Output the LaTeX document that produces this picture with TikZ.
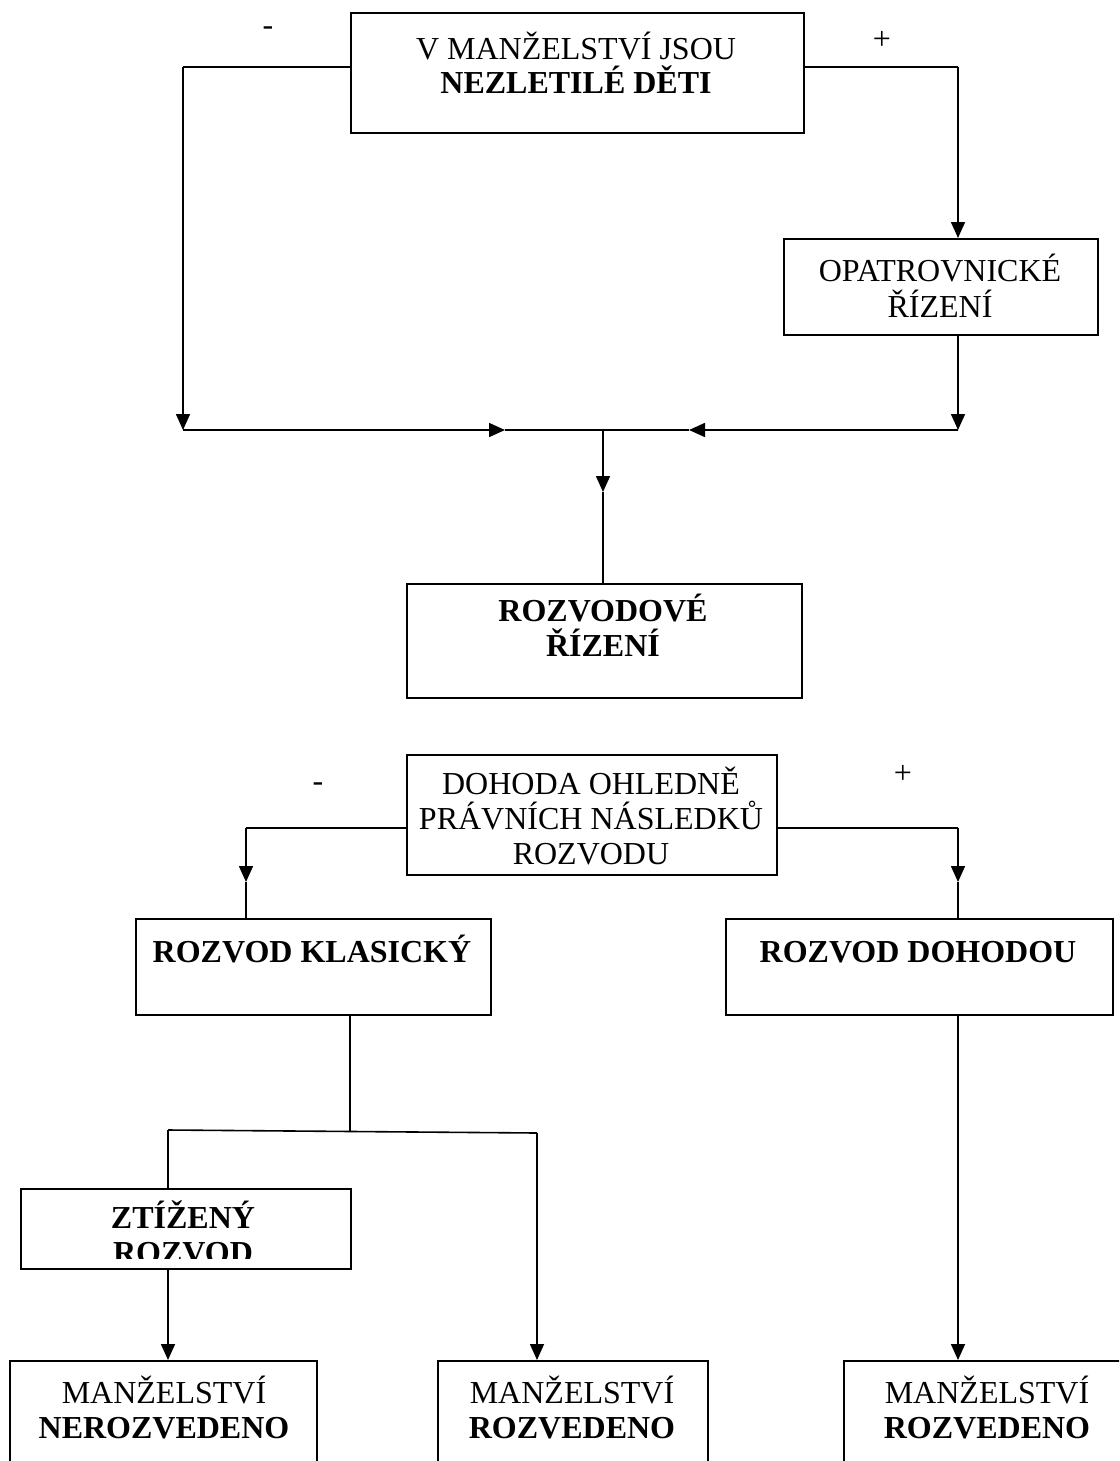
\documentclass[tikz,border=0pt]{standalone}
\usepackage{fontspec}
\setmainfont{Liberation Serif}
\usetikzlibrary{arrows.meta}
\begin{document}
\begin{tikzpicture}[x=1pt,y=-1pt,
  box/.style={draw, line width=1.6pt, anchor=north west, inner sep=0pt},
  ln/.style={line width=1.6pt},
  arr/.style={ln, -{Triangle[length=16pt,width=14pt]}},
  t/.style={anchor=base, inner sep=0pt, font=\fontsize{32}{35}\selectfont},
  tb/.style={anchor=base, inner sep=0pt, font=\fontsize{32}{35}\selectfont\bfseries}]
\useasboundingbox (0,0) rectangle (1119,1461);
\clip (0,0) rectangle (1119,1461);

% ---------- boxes ----------
\node[box, minimum width=453pt, minimum height=120pt] (b1) at (350,12) {};
\node[box, minimum width=314pt, minimum height=96pt] (op) at (783,238) {};
\node[box, minimum width=395pt, minimum height=114pt] (rz) at (406,583) {};
\node[box, minimum width=370pt, minimum height=120pt] (dh) at (406,754) {};
\node[box, minimum width=355pt, minimum height=96pt] (kl) at (135,918) {};
\node[box, minimum width=387pt, minimum height=96pt] (dd) at (725,918) {};
\node[box, minimum width=330pt, minimum height=80pt] (zt) at (20,1188) {};
\node[box, minimum width=307pt, minimum height=200pt] (m1) at (9,1360) {};
\node[box, minimum width=270pt, minimum height=200pt] (m2) at (437,1360) {};
\node[box, minimum width=330pt, minimum height=200pt] (m3) at (843,1360) {};

% ---------- texts ----------
\node[t]  (b1a) at (576,60) {V MANŽELSTVÍ JSOU};
\node[tb] (b1b) at (576,94) {NEZLETILÉ DĚTI};
\node[t]  (opa) at (940,281) {OPATROVNICKÉ};
\node[t]  (opb) at (940,317) {ŘÍZENÍ};
\node[tb] (rza) at (603,621) {ROZVODOVÉ};
\node[tb] (rzb) at (603,656) {ŘÍZENÍ};
\node[t]  (dha) at (591,794) {DOHODA OHLEDNĚ};
\node[t]  (dhb) at (591,829) {PRÁVNÍCH NÁSLEDKŮ};
\node[t]  (dhc) at (591,864) {ROZVODU};
\node[tb] (kla) at (312,962) {ROZVOD KLASICKÝ};
\node[tb] (dda) at (918,962) {ROZVOD DOHODOU};
\node[tb] (zta) at (183,1228) {ZTÍŽENÝ};
\begin{scope}
  \clip (20,1188) rectangle (350,1258);
  \node[tb] (ztb) at (183,1263) {ROZVOD};
\end{scope}
\node[t]  (m1a) at (164,1403) {MANŽELSTVÍ};
\node[tb] (m1b) at (164,1438) {NEROZVEDENO};
\node[t]  (m2a) at (572,1403) {MANŽELSTVÍ};
\node[tb] (m2b) at (572,1438) {ROZVEDENO};
\node[t]  (m3a) at (987,1403) {MANŽELSTVÍ};
\node[tb] (m3b) at (987,1438) {ROZVEDENO};

\node[t] (s1) at (268,36) {-};
\node[t] (s2) at (882,50) {+};
\node[t] (s3) at (318,791) {-};
\node[t] (s4) at (903,783) {+};

% ---------- junction coordinates ----------
\coordinate (c1) at (183,67);
\coordinate (c2) at (958,67);
\coordinate (h1) at (183,430);
\coordinate (h2) at (958,430);
\coordinate (hl) at (505,430);
\coordinate (hr) at (689,430);
\coordinate (hm) at (603,430);
\coordinate (hv) at (603,492);
\coordinate (d1) at (246,828);
\coordinate (d2) at (958,828);
\coordinate (d1a) at (246,882);
\coordinate (d2a) at (958,882);
\coordinate (k1) at (350,1131);
\coordinate (k2) at (168,1130);
\coordinate (k3) at (537,1133);

% ---------- connectors ----------
\draw[ln]  (b1.west |- c1) -- (c1);
\draw[arr] (c1) -- (h1);
\draw[ln]  (b1.east |- c2) -- (c2);
\draw[arr] (c2) -- (op.north -| c2);
\draw[arr] (op.south -| h2) -- (h2);
\draw[arr] (h1) -- (hl);
\draw[arr] (h2) -- (hr);
\draw[ln]  (hl) -- (hr);
\draw[arr] (hm) -- (hv);
\draw[ln]  (hv) -- (rz.north -| hv);

\draw[ln]  (dh.west |- d1) -- (d1);
\draw[arr] (d1) -- (d1a);
\draw[ln]  (d1a) -- (kl.north -| d1a);
\draw[ln]  (dh.east |- d2) -- (d2);
\draw[arr] (d2) -- (d2a);
\draw[ln]  (d2a) -- (dd.north -| d2a);

\draw[ln]  (kl.south -| k1) -- (k1);
\draw[ln]  (k2) -- (k3);
\draw[ln]  (k2) -- (zt.north -| k2);
\draw[arr] (zt.south -| k2) -- (m1.north -| k2);
\draw[arr] (k3) -- (m2.north -| k3);
\draw[arr] (dd.south -| d2) -- (m3.north -| d2);
\end{tikzpicture}
\end{document}
